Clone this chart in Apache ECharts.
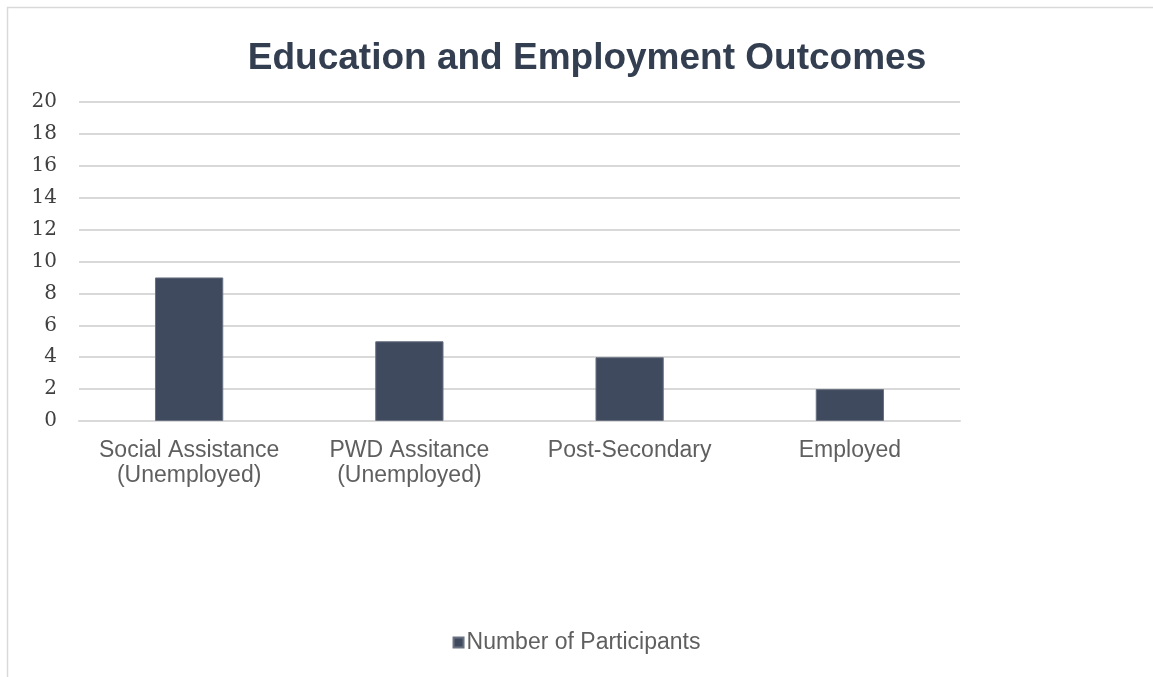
<!DOCTYPE html>
<html><head><meta charset="utf-8">
<script src="https://cdn.jsdelivr.net/npm/echarts@6/dist/echarts.min.js"></script>
<style>html,body{margin:0;padding:0;background:#fff}#c{width:1153px;height:677px}</style>
</head><body><div id="c"></div>
<script>
const categories = ['Social Assistance\n(Unemployed)', 'PWD Assitance\n(Unemployed)', 'Post-Secondary', 'Employed'];
const participants = [9, 5, 4, 2];
const seriesName = 'Number of Participants';
const titleText = 'Education and Employment Outcomes';

const chart = echarts.init(document.getElementById('c'));
chart.setOption({
  animation: false,
  graphic: [{type:'rect', shape:{x:7.5,y:7.5,width:1200,height:700}, style:{fill:'none', stroke:'#d9d9d9', lineWidth:1.5}, silent:true}],
  title: {text: titleText, left: 582, textAlign: 'center', top: 35,
    textStyle: {fontFamily: 'Liberation Sans, Arial, sans-serif', fontSize: 37, fontWeight: 'bold', color: '#333F50'}},
  legend: {data:[seriesName], left: 'center', top: 626, itemWidth: 10, itemHeight: 10, itemGap: 4,
    icon: 'rect', textStyle:{fontFamily:'Liberation Sans, Arial, sans-serif', fontSize: 23, color:'#5f5f5f', padding:[0,0,0,-2]}},
  grid: {left: 79, right: 193, top: 102, bottom: 256, containLabel: false},
  xAxis: {type:'category', data: categories,
    axisLine:{show:true, lineStyle:{color:'#d9d9d9', width:2}}, axisTick:{show:false},
    axisLabel:{fontFamily:'Liberation Sans, Arial, sans-serif', fontSize:23, color:'#5f5f5f', lineHeight:25, margin:17, interval:0}},
  yAxis: {type:'value', min:0, max:20, interval:2,
    axisLine:{show:false}, axisTick:{show:false},
    splitLine:{lineStyle:{color:'#d9d9d9', width:2}},
    axisLabel:{fontFamily:'DejaVu Serif, serif', fontSize:20, color:'#404040', margin:22}},
  series: [{name: seriesName, type:'bar', data: participants, barWidth:'31%',
    itemStyle:{color:'#3F4A5E', borderColor:'#6a7282', borderWidth:1}}]
});
</script></body></html>
